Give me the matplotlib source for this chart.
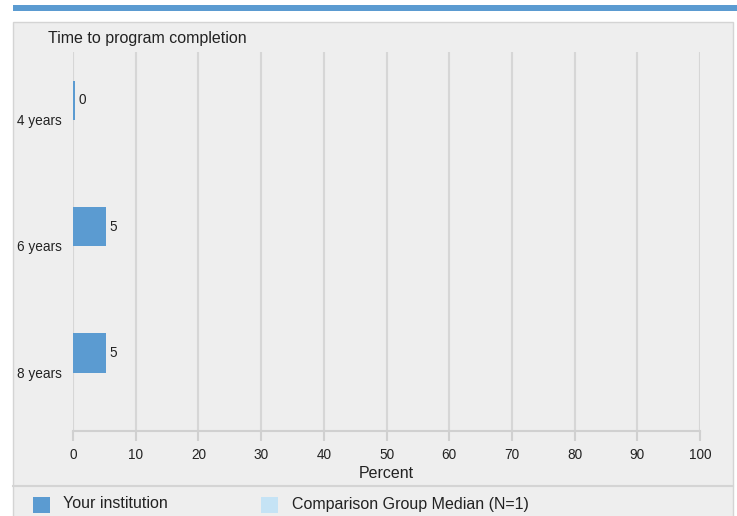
import matplotlib
matplotlib.use("Agg")
import matplotlib.pyplot as plt
from matplotlib.patches import Rectangle
import numpy as np

categories = ["4 years", "6 years", "8 years"]
your_institution = [0.35, 5.3, 5.3]
value_labels = ["0", "5", "5"]
comparison_median = [None, None, None]
x_ticks = [0, 10, 20, 30, 40, 50, 60, 70, 80, 90, 100]

plt.rcParams['font.family'] = ['Liberation Sans', 'DejaVu Sans']

W, H = 737, 516
fig = plt.figure(figsize=(W / 100, H / 100), dpi=100)
fig.patch.set_facecolor("white")

def fx(px):
    return px / W

def fy(py):
    return 1 - py / H

TXT = "#222222"

# top blue bar
fig.patches.append(Rectangle((fx(13), fy(11)), fx(737) - fx(13), fy(5) - fy(11),
                             transform=fig.transFigure, facecolor="#5b9bd1", edgecolor="none",
                             zorder=-2))
# panel
fig.patches.append(Rectangle((fx(13), fy(530)), fx(733) - fx(13), fy(22) - fy(530),
                             transform=fig.transFigure, facecolor="#eeeeee", edgecolor="#d4d4d4", lw=1,
                             zorder=-2))
# legend separator
fig.lines.append(plt.Line2D([fx(13), fx(733)], [fy(486), fy(486)], transform=fig.transFigure,
                            color="#d4d4d4", lw=1.5, zorder=-1))

fig.text(fx(48), fy(39), "Time to program completion", fontsize=11.5, color=TXT,
         va="center", ha="left")

ax = fig.add_axes([fx(73), fy(431), fx(700) - fx(73), fy(52) - fy(431)])
ax.set_zorder(1)
ax.set_facecolor("none")
ax.set_xlim(0, 100)
ax.set_ylim(2.5, -0.5)

y = np.arange(len(categories))
bar_h = 0.31
offset = -0.118
ax.barh(y + offset, your_institution, height=bar_h, color="#5b9bd1", zorder=3)
for yi, v, lab in zip(y, your_institution, value_labels):
    ax.text(v + 0.45, yi + offset, lab, fontsize=9.8, color=TXT, va="center", ha="left", zorder=4)

ax.set_xticks(x_ticks)
ax.set_xticklabels([str(t) for t in x_ticks])
ax.set_yticks(y + 0.035)
ax.set_yticklabels(categories)
ax.grid(axis="x", color="#d6d6d6", lw=1.5, zorder=0)
ax.grid(axis="y", visible=False)
for s in ["top", "right", "left"]:
    ax.spines[s].set_visible(False)
ax.spines["bottom"].set_color("#d0d0d0")
ax.spines["bottom"].set_linewidth(1.5)
ax.tick_params(axis="x", colors="#d0d0d0", length=7, width=1.5, labelcolor=TXT,
               labelsize=9.8, pad=5)
ax.tick_params(axis="y", length=0, labelcolor=TXT, labelsize=9.8, pad=8)
ax.set_xlabel("Percent", fontsize=11.5, color=TXT, labelpad=3)

# legend
fig.patches.append(Rectangle((fx(33), fy(513)), fx(50) - fx(33), fy(497) - fy(513),
                             transform=fig.transFigure, facecolor="#5b9bd1", edgecolor="none"))
fig.text(fx(63), fy(504), "Your institution", fontsize=11.5, color=TXT, va="center", ha="left")
fig.patches.append(Rectangle((fx(261), fy(513)), fx(278) - fx(261), fy(497) - fy(513),
                             transform=fig.transFigure, facecolor="#c5e3f5", edgecolor="none"))
fig.text(fx(292), fy(504), "Comparison Group Median (N=1)", fontsize=11.5, color=TXT,
         va="center", ha="left")

fig.savefig("out.png", dpi=100)
